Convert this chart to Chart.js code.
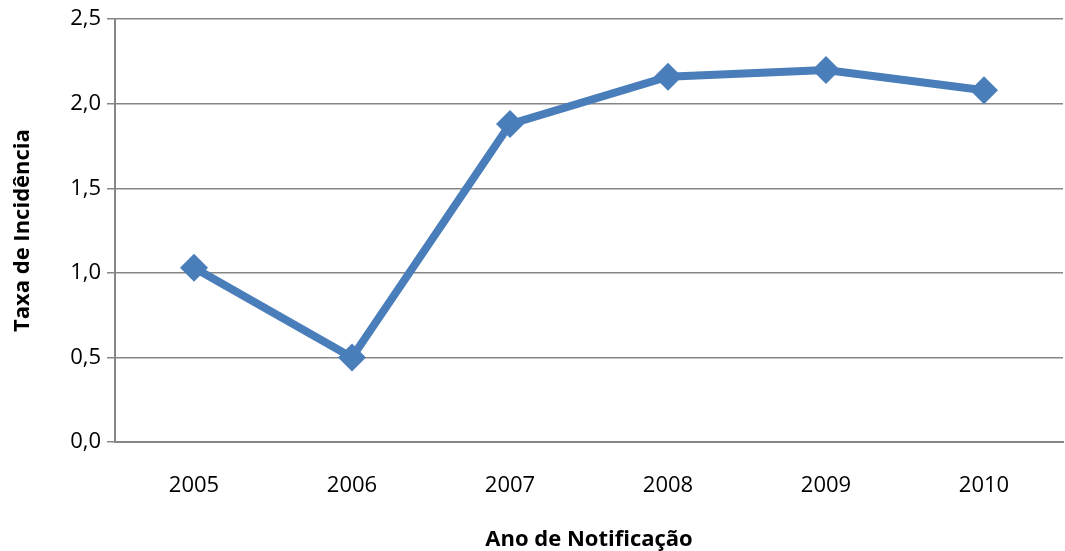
<!DOCTYPE html>
<html>
<head>
<meta charset="utf-8">
<script src="https://cdn.jsdelivr.net/npm/chart.js@4/dist/chart.umd.min.js"></script>
<style>
  html, body { margin: 0; padding: 0; background: #fff; }
  #wrap { width: 1065px; height: 551px; }
</style>
</head>
<body>
<div id="wrap"><canvas id="incidenceChart" width="1065" height="551"></canvas></div>
<script>
const years = ["2005", "2006", "2007", "2008", "2009", "2010"];
const incidence = [1.03, 0.50, 1.88, 2.16, 2.20, 2.08];
const yTicks = [0, 0.5, 1.0, 1.5, 2.0, 2.5];

const lineColor = "#4A7EBB";
const gridColor = "#868686";
const fontFamily = "'Open Sans', 'Liberation Sans', sans-serif";

new Chart(document.getElementById("incidenceChart"), {
    type: "line",
    data: {
        labels: years,
        datasets: [{
            label: "Taxa de Incidência",
            data: incidence,
            borderColor: lineColor,
            backgroundColor: lineColor,
            borderWidth: 8,
            pointStyle: "rectRot",
            pointRadius: 14,
            pointBorderWidth: 0,
            tension: 0
        }]
    },
    options: {
        responsive: false,
        animation: false,
        layout: { autoPadding: false, padding: { top: 18, right: 2, left: 0, bottom: 0 } },
        plugins: {
            legend: { display: false },
            tooltip: { enabled: false }
        },
        scales: {
            x: {
                offset: true,
                grid: { display: false, drawTicks: false },
                border: { color: gridColor, width: 2 },
                ticks: {
                    color: "#000",
                    font: { family: fontFamily, size: 22 },
                    padding: 31
                },
                title: {
                    display: true,
                    text: "Ano de Notificação",
                    color: "#000",
                    font: { family: fontFamily, size: 22, weight: "bold" },
                    padding: { top: 0, bottom: -2 }
                },
                afterFit: scale => { scale.height = 109; }
            },
            y: {
                min: 0,
                max: 2.5,
                afterBuildTicks: scale => {
                    scale.ticks = yTicks.map(v => ({ value: v }));
                },
                grid: {
                    color: gridColor,
                    lineWidth: 1.5,
                    tickLength: 8
                },
                border: { color: gridColor, width: 2 },
                ticks: {
                    color: "#000",
                    font: { family: fontFamily, size: 22 },
                    padding: 6,
                    callback: v => v.toFixed(1).replace(".", ",")
                },
                title: {
                    display: true,
                    text: "Taxa de Incidência",
                    color: "#000",
                    font: { family: fontFamily, size: 22, weight: "bold" },
                    padding: { top: 10, bottom: 0 }
                },
                afterFit: scale => { scale.width = 115; }
            }
        }
    }
});
</script>
</body>
</html>
